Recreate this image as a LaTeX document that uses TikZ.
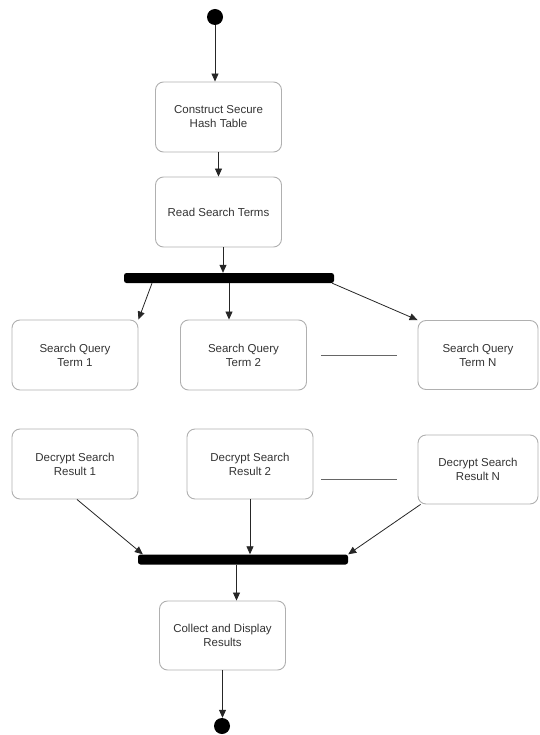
\documentclass[tikz,border=0pt]{standalone}
\usepackage{fontspec}
\setmainfont{Liberation Sans}
\usepackage{xcolor}
\usepackage{tikz}
\usetikzlibrary{positioning, shapes, calc, arrows.meta}

\definecolor{boxgray}{HTML}{B0B0B0}
\definecolor{txtgray}{HTML}{333333}

\begin{document}
\begin{tikzpicture}[x=1pt, y=-1pt,
  act/.style={draw=boxgray, line width=0.9pt, rounded corners=8pt, minimum width=126pt, minimum height=70pt, inner sep=0pt, align=center, text=txtgray, font=\fontsize{11.5}{14}\selectfont},
  bar/.style={fill=black, rounded corners=2.5pt, minimum width=210pt, minimum height=10pt, inner sep=0pt},
  dot/.style={circle, fill=black, minimum size=16pt, inner sep=0pt},
  arr/.style={draw=black!85, line width=0.8pt, -{Triangle[length=8pt,width=7pt]}},
  etc/.style={draw=black!60, line width=1pt}]

\useasboundingbox (0,0) rectangle (539,735);

%//starting at the top dot
\node [dot] (start) at (215,17) {};
\node [act] (hash) at (218.5,117) {Construct Secure\\Hash Table};
\node [act] (read) at (218.5,212) {Read Search Terms};
\node [bar] (fork) at (229,278) {};

\foreach \name/\x/\val in {q1/75/1, q2/243.5/2}
\node [act] (\name) at (\x,355) {Search Query\\Term \val};
\node [act, minimum width=120pt, minimum height=69pt] (qn) at (478,355) {Search Query\\Term N};

\foreach \name/\x/\val in {d1/75/1, d2/250/2}
\node [act] (\name) at (\x,464) {Decrypt Search\\Result \val};
\node [act, minimum width=120pt, minimum height=69pt] (dn) at (478,469.5) {Decrypt Search\\Result N};

\node [bar] (join) at (243,559.5) {};
\node [act, minimum height=69pt] (collect) at (222.5,635.5) {Collect and Display\\Results};
\node [dot] (stop) at (222,726) {};

%//arrows
\draw [arr] (start) -- (start |- hash.north);
\draw [arr] (hash) -- (read);
\draw [arr] ([xshift=4.5pt]read.south) -- ([xshift=4.5pt]read.south |- fork.north);

\draw [arr] ([xshift=-77pt]fork.south) -- (q1.north east);
\draw [arr] (fork.south) -- (fork.south |- q2.north);
\draw [arr] ([xshift=-2pt]fork.south east) -- (qn.north west);

\draw [etc, shorten <=14pt, shorten >=21pt] (q2) -- (qn);
\draw [etc] ([shift={(8,15)}]d2.east) -- ([shift={(-21,9.5)}]dn.west);

\draw [arr] ([xshift=2pt]d1.south) -- ([xshift=5pt]join.north west);
\draw [arr] (d2.south) -- (d2.south |- join.north);
\draw [arr] ([xshift=3pt]dn.south west) -- (join.north east);

\draw [arr] ([xshift=-6.5pt]join.south) -- ([xshift=-6.5pt]join.south |- collect.north);
\draw [arr] (collect) -- (collect |- stop.north);

\end{tikzpicture}
\end{document}
